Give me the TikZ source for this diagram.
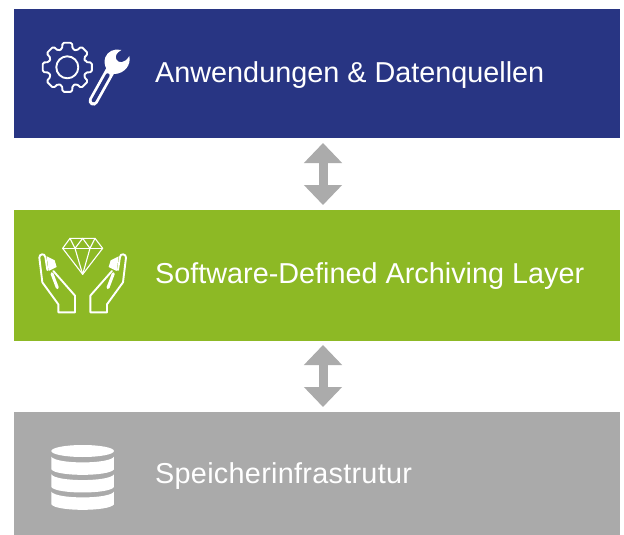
\documentclass[tikz,border=0pt]{standalone}
\usepackage{fontspec}
\setmainfont{Liberation Sans}
\usetikzlibrary{arrows.meta}
\definecolor{bluebox}{HTML}{283583}
\definecolor{greenbox}{HTML}{8DB925}
\definecolor{graybox}{HTML}{AAAAAA}
\definecolor{arrowgray}{HTML}{ABABAB}
\tikzset{
  layerbox/.style={minimum width=606pt,inner sep=0pt,outer sep=0pt,anchor=north west},
  layertext/.style={text=white,font=\fontsize{28.8}{32}\selectfont,anchor=base west,inner sep=0pt},
  link/.style={draw=arrowgray,line width=9pt,{Triangle[length=20pt,width=37pt]}-{Triangle[length=20pt,width=37pt]}},
  icon/.style={draw=white,line width=1.9pt,line join=round,line cap=round},
  thinicon/.style={draw=white,line width=1.1pt,line join=round,line cap=round},
  zoomed/.style={x=.3333pt,y=-.3333pt}
}
\begin{document}
\begin{tikzpicture}[x=1pt,y=-1pt]
\useasboundingbox (0,0) rectangle (624,535);
\fill[white] (0,0) rectangle (624,535);
\node[layerbox,fill=bluebox,minimum height=129pt] (apps) at (14,9) {};
\node[layerbox,fill=greenbox,minimum height=131pt] (sdal) at (14,210) {};
\node[layerbox,fill=graybox,minimum height=123pt] (store) at (14,412) {};
\node[layertext] (tapps) at (155,82) {Anwendungen \& Datenquellen};
\node[layertext] (tsdal) at (155,283) {Software-Defined Archiving Layer};
\node[layertext] (tstore) at (155,483) {\addfontfeature{LetterSpace=1}Speicherinfrastrutur};
% connectors
\coordinate (a1) at (323,143);
\coordinate (a2) at (323,205);
\coordinate (b1) at (323,345);
\coordinate (b2) at (323,407);
\draw[link] (a1) -- (a2);
\draw[link] (b1) -- (b2);
% gear
\begin{scope}[shift={(67.3,67.3)},zoomed]
\draw[icon] (0,0) circle (33);
\draw[icon,rounded corners=1.5pt] (-16:57)
  \foreach \a in {0,45,...,315}{
    -- (\a-16:57) -- (\a-11:75) -- (\a+11:75) -- (\a+16:57)
  } -- cycle;
\end{scope}
% wrench
\begin{scope}[shift={(20,20)},zoomed]
\draw[white,line width=9.5pt,line cap=round] (220,243) -- (272,150);
\draw[bluebox,line width=4pt,line cap=round] (221,241) -- (263,166);
\fill[white] (256,112) .. controls (262,95) and (283,84) .. (304,90)
  .. controls (290,98) and (284,108) .. (289,118)
  .. controls (294,130) and (314,132) .. (328,108)
  .. controls (334,135) and (314,160) .. (285,162)
  .. controls (263,164) and (248,135) .. (256,112) -- cycle;
\end{scope}
% diamond and hands
\begin{scope}[shift={(20,225)},zoomed]
\draw[thinicon] (150,40) -- (225,40) -- (248,70) -- (188,148) -- (128,70) -- cycle;
\draw[thinicon] (128,70) -- (248,70);
\draw[thinicon] (150,40) -- (165,70) -- (188,40) -- (210,70) -- (225,40);
\draw[thinicon] (165,70) -- (188,148) -- (210,70);
\foreach \m/\o in {1/0,-1/376}{
  \begin{scope}[shift={(\o,0)},xscale=\m]
  \draw[icon] (100,138) -- (165,212) -- (165,262) -- (115,262) -- (115,238) -- (67,172) -- (58,98)
     .. controls (57,86) and (75,84) .. (76,96) -- (82,135);
  \fill[white] (80,94) -- (104,106) -- (110,126) -- (86,138) -- cycle;
  \draw[white,line width=3pt,line cap=round] (96,146) -- (112,188);
  \end{scope}
}
\end{scope}
% database
\begin{scope}[shift={(30,430)},zoomed]
\fill[white] (158,63) ellipse [x radius=94,y radius=18];
\foreach \t in {80,133,185}{
  \fill[white] (64,\t) .. controls (78,\t+23) and (238,\t+23) .. (252,\t)
    -- (252,\t+38) .. controls (238,\t+60) and (78,\t+60) .. (64,\t+38) -- cycle;
}
\end{scope}
\end{tikzpicture}
\end{document}
